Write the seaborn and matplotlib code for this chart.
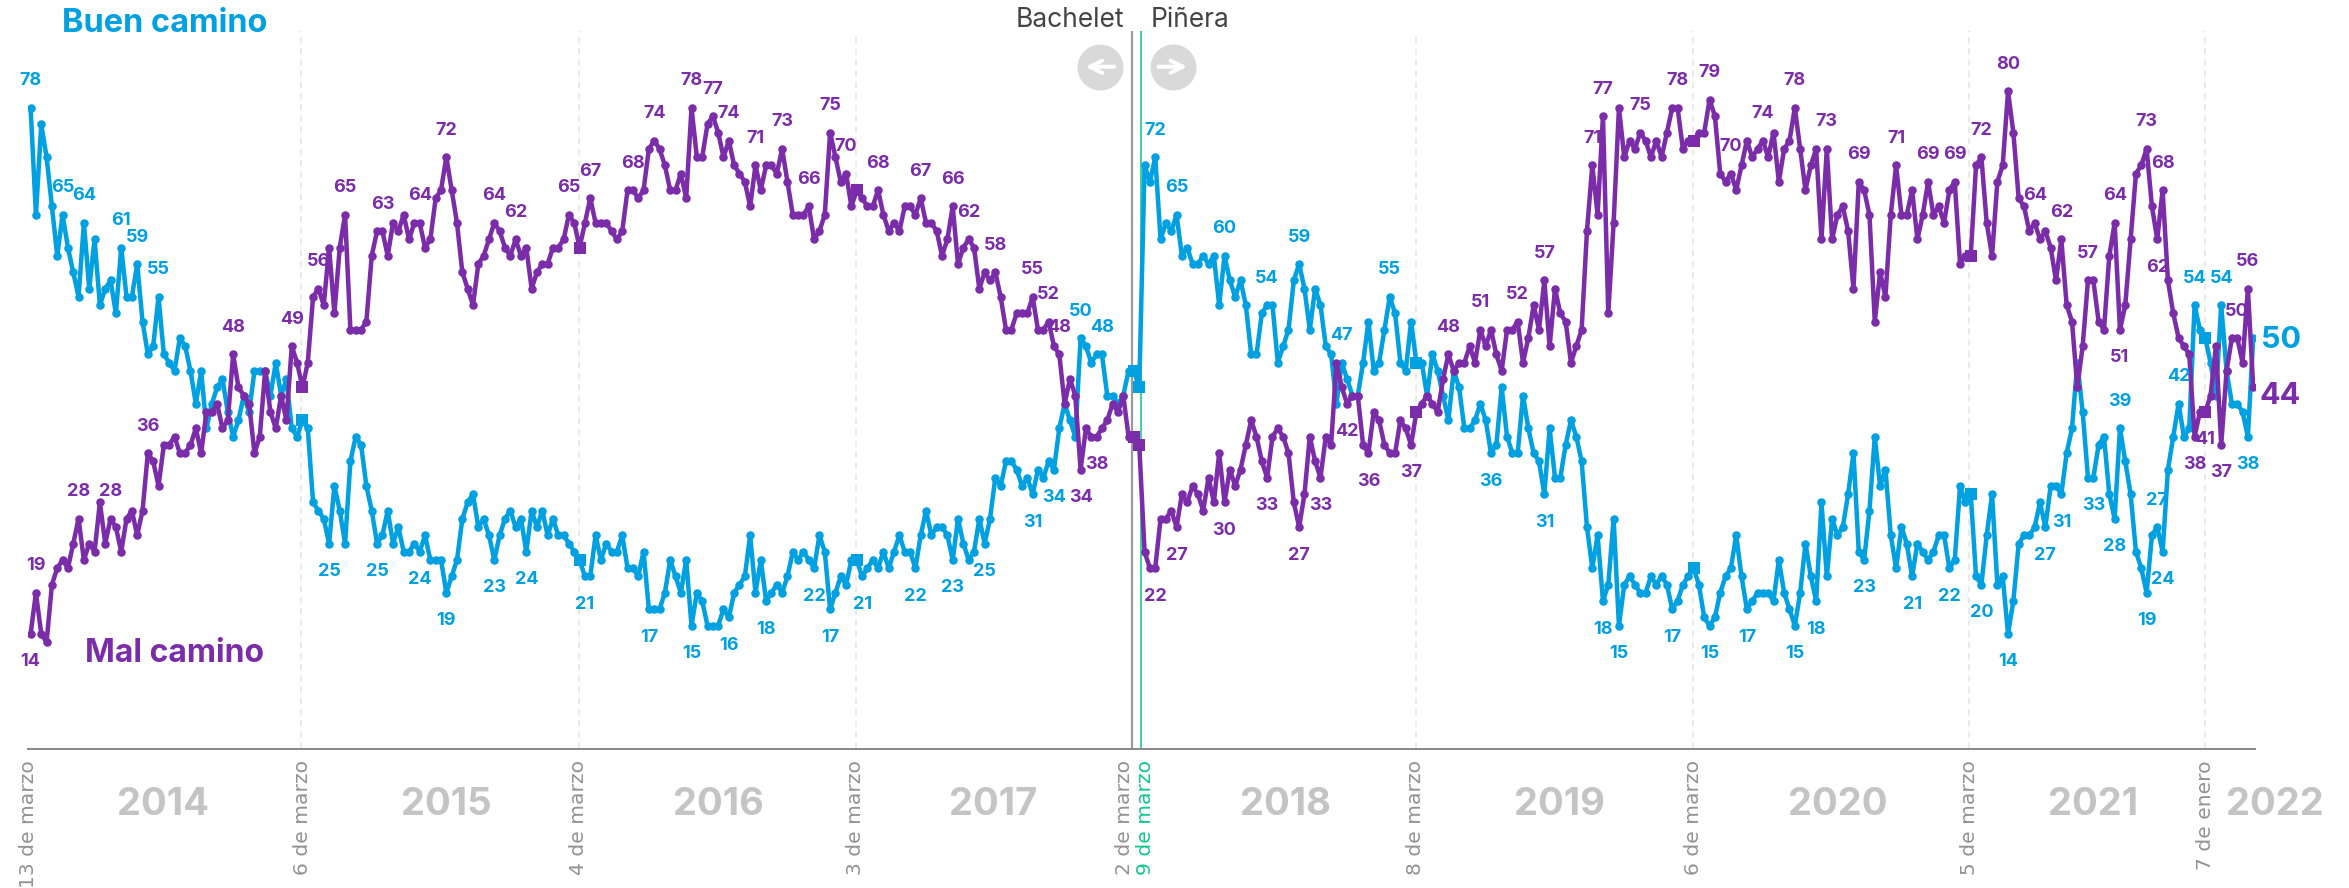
import matplotlib
matplotlib.use("Agg")
import matplotlib.pyplot as plt
import seaborn as sns
import pandas as pd

buen = [78,65,76,72,66,60,65,61,58,55, 64,56,62,54,56,57,53,61,55,55,
        59,52,48,49,55,48,47,46,50,49, 46,42,46,39,42,44,45,41,38,40,
        43,41,46,46,46,43,47,43,45,39, 38,40,39,30,29,28,25,32,29,25,
        35,38,37,32,29,25,26,29,25,27, 24,24,25,24,26,23,23,23,19,21,
        23,28,30,31,27,28,26,23,26,28, 29,27,28,24,29,27,29,26,28,26,
        26,25,24,23,21,21,26,23,25,24, 24,26,22,22,21,24,17,17,17,19,
        23,21,19,23,15,19,18,15,15,15, 17,16,19,20,21,26,19,23,18,19,
        20,19,21,24,23,24,23,22,26,24, 17,19,21,20,23,23,21,22,23,22,
        24,22,24,26,24,24,22,26,29,26, 27,27,26,23,28,25,23,24,28,25,
        28,33,32,35,35,34,32,33,31,34, 33,35,34,39,42,40,38,50,49,47,
        48,48,43,43,42,43,46,46,44,71, 69,72,62,64,63,65,60,61,59,59,
        60,59,60,54,60,57,55,57,54,48, 48,53,54,54,47,49,51,57,59,56,
        51,56,54,49,48,42,47,45,43,43, 47,52,46,47,51,55,53,47,46,52,
        47,47,43,48,46,43,40,46,44,39, 39,40,42,40,36,37,44,38,36,36,
        43,39,36,35,31,39,33,33,37,40, 38,35,27,22,26,18,20,28,15,20,
        21,20,19,19,21,20,21,20,17,18, 20,21,22,20,16,15,16,19,21,22,
        26,21,17,18,19,19,19,18,23,19, 17,15,19,25,21,18,30,21,28,26,
        27,31,36,24,23,29,38,32,34,26, 22,27,25,21,25,24,23,24,26,26,
        22,23,32,30,31,21,20,26,31,20, 21,14,18,25,26,26,27,30,27,32,
        32,31,36,39,47,41,33,33,37,38, 31,28,39,35,31,24,22,19,26,27,
        24,34,38,42,38,39,54,51,50,47, 43,54,46,42,42,41,38,50]
mal = [14,19,14,13,20,22,23,22,25,28, 23,25,24,30,25,28,27,24,28,29,
       26,29,36,35,32,37,37,38,36,36, 37,39,36,41,41,42,39,40,48,44,
       43,42,36,38,46,41,39,43,40,49, 47,44,47,55,56,54,61,53,61,65,
       51,51,51,52,60,63,63,60,64,63, 65,62,64,64,61,62,67,68,72,68,
       64,58,56,54,59,60,62,64,63,61, 60,62,60,61,56,58,59,59,61,61,
       62,65,64,61,64,67,64,64,64,63, 62,63,68,68,67,68,73,74,73,71,
       68,68,70,67,78,72,72,76,77,75, 72,74,71,70,69,66,71,68,71,71,
       70,73,69,65,65,65,66,62,63,65, 75,72,69,70,66,68,67,66,66,68,
       65,63,64,63,66,66,65,67,64,64, 63,60,62,66,59,61,62,61,56,58,
       57,58,55,51,51,53,53,53,55,51, 51,52,49,48,42,45,43,34,39,38,
       38,39,40,42,41,43,38,38,37,24, 22,22,28,28,29,27,31,30,32,31,
       29,33,30,36,30,34,32,34,37,40, 38,35,33,38,39,38,36,30,27,31,
       38,35,33,38,37,47,44,42,43,43, 37,36,41,40,37,36,36,40,39,37,
       41,42,43,42,41,45,48,46,47,47, 49,47,51,49,51,48,46,51,51,52,
       47,50,54,51,57,49,56,53,52,47, 49,51,63,71,65,77,53,64,78,72,
       74,73,75,74,72,74,72,75,78,78, 73,74,74,75,75,79,77,70,69,70,
       68,71,74,72,73,74,72,75,69,73, 74,78,73,68,71,73,62,73,62,65,
       66,63,56,69,68,65,52,58,55,65, 71,65,65,68,62,65,69,65,66,64,
       68,69,59,60,60,71,72,64,60,69, 71,80,75,67,66,63,64,62,63,61,
       57,62,54,52,44,49,57,57,52,51, 60,64,51,54,62,70,71,73,66,62,
       68,57,53,50,49,48,38,41,41,43, 49,37,46,50,50,47,56,44]

buen_arriba = [0,6,10,17,20,24,197,201,211,215,224,232,238,246,255,392,399,403,406,411]
buen_abajo = [56,65,73,78,87,93,104,116,124,131,138,147,150,156,166,173,179,188,192,
              274,284,295,298,308,315,322,331,335,344,353,360,366,371,378,381,387,391,397,400,416]
mal_arriba = [1,9,15,22,38,49,54,59,66,73,78,87,91,101,105,113,117,124,128,131,136,141,146,150,
              153,159,167,173,176,181,188,191,193,266,272,279,284,293,295,302,309,315,319,325,
              331,337,343,350,356,361,366,371,376,381,386,391,397,400,414,416]
mal_abajo = [0,197,200,211,215,224,232,238,242,247,251,259,392,399,406,408,411]

cuadrados = [51,103,155,207,208,260,312,364,408]
lineas_pos = [50.8,102.8,154.8,259.9,311.9,363.7,407.9]
tick_pos = [-0.45,51.1,102.8,154.8,205.3,209.1,259.9,311.9,363.7,408.1]
tick_txt = ["13 de marzo","6 de marzo","4 de marzo","3 de marzo","2 de marzo",
            "9 de marzo","8 de marzo","6 de marzo","5 de marzo","7 de enero"]
anios = ["2014","2015","2016","2017","2018","2019","2020","2021","2022"]
anios_x = [24.8,78,129,180.6,235.5,286.8,339,387,421]

AZUL = "#00A0E1"
MORADO = "#7B2CA8"
PX = 0.72
W, H = 2349, 888
FUENTE = ["Inter", "DejaVu Sans"]

sns.set_theme(style="white")
plt.rcParams['font.family'] = FUENTE

df = pd.DataFrame({"semana": range(len(buen)), "buen": buen, "mal": mal})

fig = plt.figure(figsize=(W/100, H/100), dpi=100)
x0, x1, ybase = 28, 2255, 749
ax = fig.add_axes([x0/W, (H-ybase)/H, (x1-x0)/W, ybase/H])
ax.patch.set_alpha(0)

ymax_lineas = 87.3
ax.vlines(lineas_pos, 0, ymax_lineas, color="#e6e6e6", lw=1.6*PX, ls=(0, (4, 3)), zorder=1)
ax.vlines(206.7, 0, ymax_lineas, color="#9a9a9a", lw=2.2*PX, zorder=1)
ax.vlines(208.4, 0, ymax_lineas, color="#10C98A", lw=1.6*PX, zorder=1)

for col, color in (("buen", AZUL), ("mal", MORADO)):
    sns.lineplot(data=df, x="semana", y=col, ax=ax, color=color, lw=4.5*PX,
                 marker="o", markersize=8.5*PX, markeredgewidth=0, errorbar=None, zorder=3)
    sns.scatterplot(data=df.iloc[cuadrados], x="semana", y=col, ax=ax, color=color,
                    marker="s", s=(12.5*PX)**2, linewidth=0, zorder=3)

ax.set_xlabel(""); ax.set_ylabel("")
ax.set_yticks([])
ax.set_xticks(tick_pos)
ax.set_xticklabels(tick_txt, rotation=90, fontsize=14.6, color="#929292",
                   family=["DejaVu Sans"], ha="center", va="top")
ax.set_xlim((x0-30.6)/5.33, (x1-30.6)/5.33)
ax.set_ylim(0, ybase/8.22)
ax.tick_params(axis="x", length=0, pad=8, bottom=False)
ax.get_xticklabels()[5].set_color("#10C98A")
sns.despine(ax=ax, left=True, top=True, right=True)
ax.spines["bottom"].set_color("#8a8a8a")
ax.spines["bottom"].set_linewidth(2*PX)

def etiquetas(serie, idx, dy, color):
    for i in idx:
        ax.annotate(str(serie[i]), (i, serie[i]), xytext=(0, dy*PX), textcoords="offset points",
                    ha="center", va="center", fontsize=13, fontweight="bold",
                    color=color, zorder=4)

etiquetas(buen, buen_arriba, 27, AZUL)
etiquetas(buen, buen_abajo, -28, AZUL)
etiquetas(mal, mal_arriba, 27, MORADO)
etiquetas(mal, mal_abajo, -28, MORADO)

for a, x in zip(anios, anios_x):
    ax.annotate(a, (x, 0), xytext=(0, -56*PX), textcoords="offset points", ha="center", va="center",
                fontsize=27.5, fontweight="bold", color="#c4c4c4", annotation_clip=False)

def t_px(x, y, s, **kw):
    fig.text(x/W, 1-y/H, s, va="center", **kw)

t_px(62, 24, "Buen camino", color=AZUL, fontsize=23.4, fontweight="bold")
t_px(85, 653, "Mal camino", color=MORADO, fontsize=23, fontweight="bold")
t_px(1124, 20, "Bachelet", color="#444444", fontsize=19, ha="right")
t_px(1151, 20, "Piñera", color="#444444", fontsize=19, ha="left")
t_px(2281, 340, "50", color=AZUL, fontsize=22, fontweight="bold", ha="center")
t_px(2280, 396, "44", color=MORADO, fontsize=22, fontweight="bold", ha="center")

# botones con flechas
flechas = [(200.6, "<-"), (214.3, "->")]
for xb, est in flechas:
    ax.plot([xb], [83], marker="o", ms=46*PX, color="#d9d9d9", mew=0, zorder=2, clip_on=False)
    ax.annotate("", xy=(xb+2.7, 83), xytext=(xb-2.7, 83),
                arrowprops=dict(arrowstyle=est, color="white", lw=4*PX,
                                mutation_scale=22, shrinkA=0, shrinkB=0), zorder=3)

fig.savefig("out.png", dpi=100, facecolor="white")
